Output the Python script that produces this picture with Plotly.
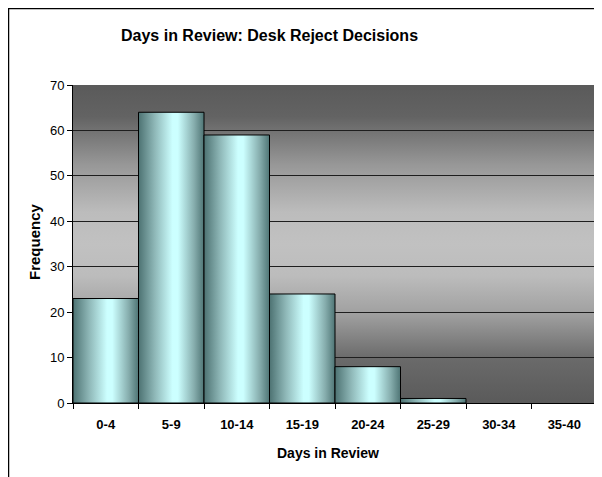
import base64
import plotly.graph_objects as go

# ---- data ----
categories = ["0-4", "5-9", "10-14", "15-19", "20-24", "25-29", "30-34", "35-40"]
frequency = [23, 64, 59, 24, 8, 1, 0, 0]
y_ticks = [0, 10, 20, 30, 40, 50, 60, 70]

title_text = "Days in Review: Desk Reject Decisions"
x_title = "Days in Review"
y_title = "Frequency"

FONT = "Arial, 'Liberation Sans', sans-serif"

bar_scale = [[0, "#4d7272"], [0.25, "#8fb8b8"], [0.52, "#ccffff"], [0.6, "#ccffff"],
             [0.85, "#86adad"], [1, "#4f7575"]]

fig = go.Figure()

# bars as filled polygons (to allow horizontal gradient shading)
for i, (cat, v) in enumerate(zip(categories, frequency)):
    if v <= 0:
        continue
    x0, x1 = i - 0.5, i + 0.5
    fig.add_trace(go.Scatter(
        x=[x0, x0, x1, x1, x0], y=[0, v, v, 0, 0],
        mode="lines", fill="toself",
        fillgradient=dict(type="horizontal", colorscale=bar_scale, start=x0, stop=x1),
        line=dict(color="black", width=1),
        hoverinfo="text", text=f"{cat}: {v}", showlegend=False,
    ))

# background gradient (plot area) via SVG image
stops = [(0, "#5a5a5a"), (0.1, "#636363"), (0.25, "#979797"), (0.4, "#bcbcbc"),
         (0.5, "#c1c1c1"), (0.6, "#bcbcbc"), (0.72, "#a0a0a0"), (0.86, "#6a6a6a"),
         (1, "#5a5a5a")]
stop_xml = "".join(f"<stop offset='{o}' stop-color='{c}'/>" for o, c in stops)
svg = ("<svg xmlns='http://www.w3.org/2000/svg' width='10' height='100' "
       "viewBox='0 0 10 100' preserveAspectRatio='none'>"
       f"<defs><linearGradient id='g' x1='0' y1='0' x2='0' y2='1'>{stop_xml}</linearGradient></defs>"
       "<rect width='10' height='100' fill='url(#g)'/></svg>")
src = "data:image/svg+xml;base64," + base64.b64encode(svg.encode()).decode()

n = len(categories)
boundaries = [i - 0.5 for i in range(n + 1)]

# page has an 8px body margin; work in page pixels and shift
OFF = 8
PAGE_W, PAGE_H = 602, 477
W, H = PAGE_W - OFF, PAGE_H - OFF
PL, PR, PT, PB = 73, 597, 85, 403          # plot area in page pixels
L, T = PL - OFF, PT - OFF
R, B = W - (PR - OFF), H - (PB - OFF)
pw, ph = W - L - R, H - T - B

def px(x):
    return (x - OFF - L) / pw

def py(y):
    return (H - B - (y - OFF)) / ph

fig.update_layout(
    width=W, height=H,
    margin=dict(l=L, r=R, t=T, b=B),
    paper_bgcolor="white", plot_bgcolor="#5a5a5a",
    font=dict(family=FONT, color="black", size=13),
    showlegend=False,
    images=[dict(source=src, xref="paper", yref="paper", x=0, y=1, sizex=1, sizey=1,
                 sizing="stretch", layer="below", xanchor="left", yanchor="top")],
    xaxis=dict(
        range=[-0.5, n - 0.5], tickmode="array", tickvals=list(range(n)), ticktext=categories,
        ticks="outside", ticklen=5, tickcolor="rgba(0,0,0,0)",
        tickfont=dict(size=13, family=FONT, weight="bold"),
        ticklabelstandoff=4,
        minor=dict(tickmode="array", tickvals=boundaries, ticks="outside", ticklen=5,
                   tickcolor="black", tickwidth=1, showgrid=False),
        showline=True, linecolor="black", linewidth=1, showgrid=False, zeroline=False,
        fixedrange=True,
    ),
    yaxis=dict(
        range=[0, 70], tickmode="array", tickvals=y_ticks,
        ticks="outside", ticklen=5, tickcolor="black",
        tickfont=dict(size=13, family=FONT),
        showline=True, linecolor="black", linewidth=1,
        showgrid=True, gridcolor="#1e1e1e", gridwidth=1, zeroline=False,
        fixedrange=True,
    ),
    annotations=[
        dict(text=f"<b>{title_text}</b>", xref="paper", yref="paper", x=px(269), y=py(35),
             xanchor="center", yanchor="middle", showarrow=False,
             font=dict(size=16, family=FONT, color="black")),
        dict(text=f"<b>{x_title}</b>", xref="paper", yref="paper", x=px(328), y=py(453),
             xanchor="center", yanchor="middle", showarrow=False,
             font=dict(size=14, family=FONT, color="black")),
        dict(text=f"<b>{y_title}</b>", xref="paper", yref="paper", x=px(34), y=py(242),
             xanchor="center", yanchor="middle", showarrow=False, textangle=-90,
             font=dict(size=15, family=FONT, color="black")),
    ],
    shapes=[dict(type="rect", xref="paper", yref="paper",
                 x0=px(8.5), y0=py(8.5), x1=px(660), y1=py(540),
                 line=dict(color="black", width=1.5), fillcolor="rgba(0,0,0,0)", layer="above")],
)

fig.write_html("out.html")
